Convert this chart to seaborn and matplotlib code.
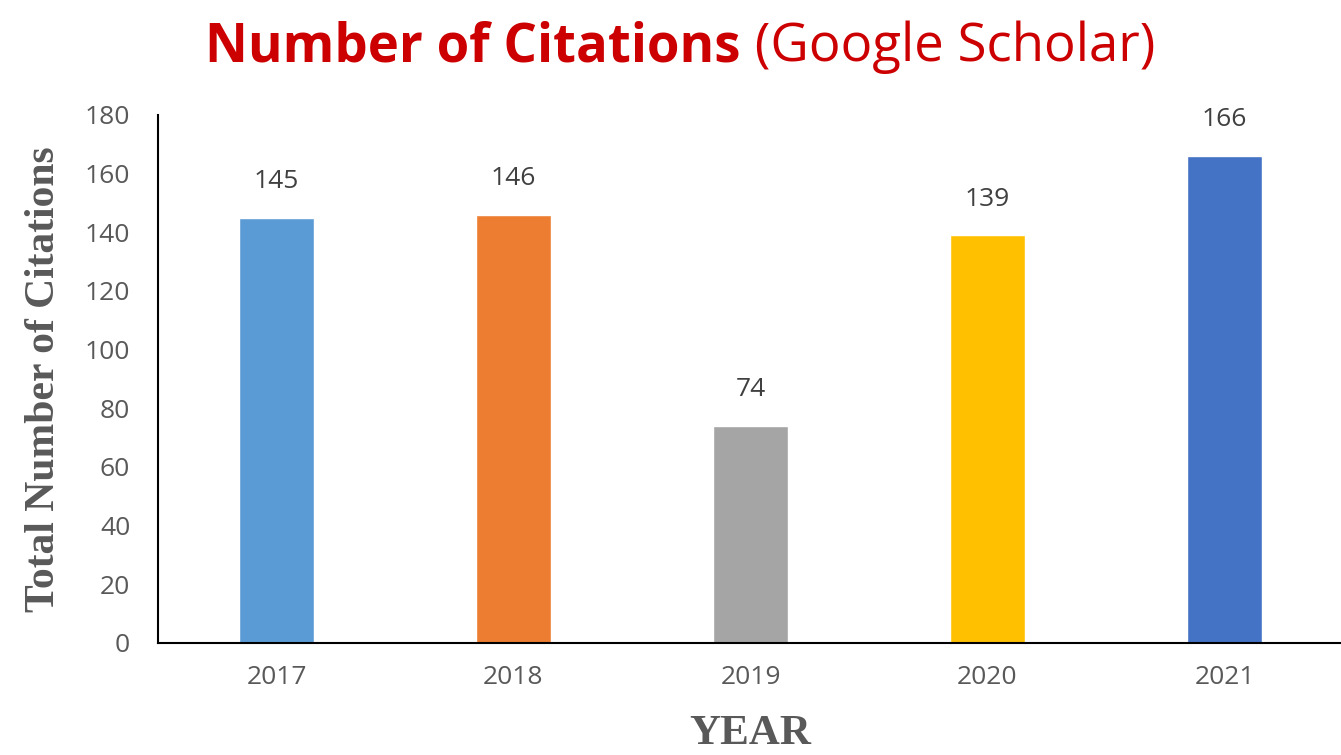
import numpy as np
import pandas as pd
import matplotlib
matplotlib.use("Agg")
import matplotlib.pyplot as plt
import seaborn as sns

# data
years = ["2017", "2018", "2019", "2020", "2021"]
citations = [145, 146, 74, 139, 166]
bar_colors = ["#5B9BD5", "#ED7D31", "#A5A5A5", "#FFC000", "#4472C4"]
y_ticks = [0, 20, 40, 60, 80, 100, 120, 140, 160, 180]

df = pd.DataFrame({"year": years, "citations": citations})

sns.set_style("white")
plt.rcParams["font.family"] = ["Open Sans", "DejaVu Sans"]

fig = plt.figure(figsize=(13.41, 7.55), dpi=100)
ax = fig.add_axes([158 / 1341, 1 - 643 / 755, 1185 / 1341, (643 - 115) / 755])

sns.barplot(data=df, x="year", y="citations", hue="year", palette=bar_colors,
            legend=False, width=0.32, saturation=1, ax=ax)

ax.set_ylim(0, 180)
ax.set_xlim(-0.5, len(years) - 0.5)
ax.set_yticks(y_ticks)
ax.tick_params(axis="both", length=0, labelsize=19, colors="#595959")
ax.tick_params(axis="x", pad=16)
ax.tick_params(axis="y", pad=20)

for s in ["top", "right"]:
    ax.spines[s].set_visible(False)
for s in ["left", "bottom"]:
    ax.spines[s].set_color("black")
    ax.spines[s].set_linewidth(1.5)

for i, v in enumerate(citations):
    ax.annotate(str(v), (i, v), xytext=(0, 17), textcoords="offset points",
                ha="center", va="bottom", fontsize=19, color="#404040")

ax.set_xlabel("YEAR", family="Liberation Serif", fontweight="bold",
              fontsize=31, color="#595959", labelpad=18)
ax.set_ylabel("Total Number of Citations", family="Liberation Serif",
              fontweight="bold", fontsize=30, color="#595959", labelpad=16)

# two-part title
red = "#CC0000"
t1 = fig.text(0, 1 - 47 / 755, "Number of Citations", fontsize=38,
              fontweight="bold", color=red, va="center", ha="left")
t2 = fig.text(0, 1 - 47 / 755, " (Google Scholar)", fontsize=38,
              color=red, va="center", ha="left")
fig.canvas.draw()
r = fig.canvas.get_renderer()
w1 = t1.get_window_extent(r).width
w2 = t2.get_window_extent(r).width
x0 = 680 - (w1 + w2) / 2
t1.set_x(x0 / 1341)
t2.set_x((x0 + w1) / 1341)

fig.savefig("out.png", dpi=100)
